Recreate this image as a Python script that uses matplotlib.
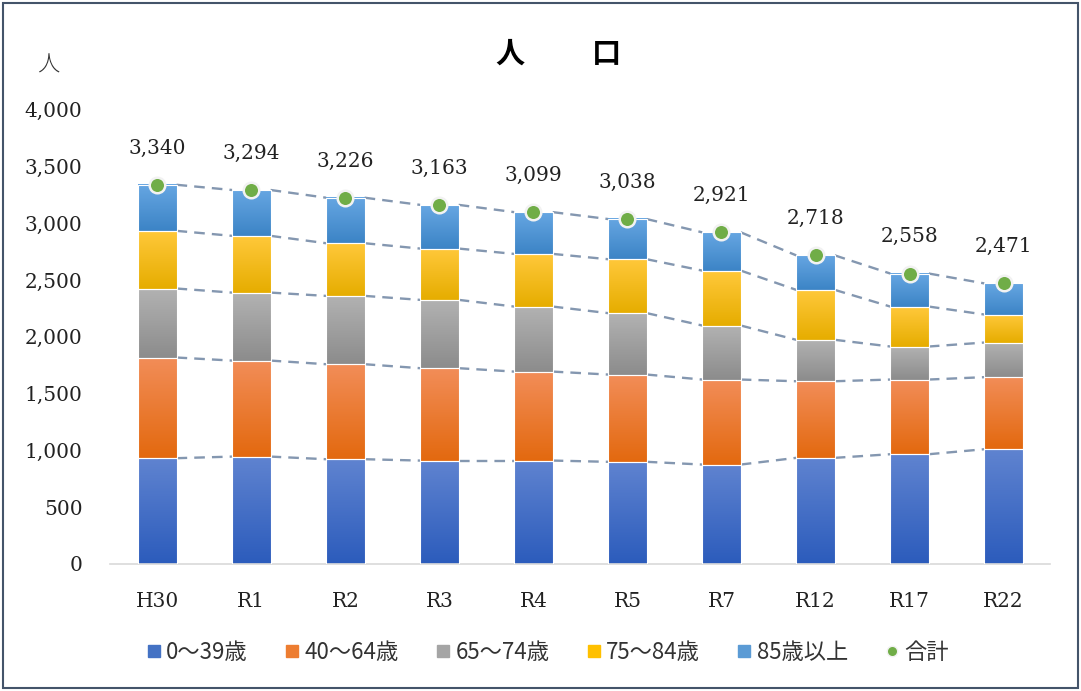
import numpy as np
import matplotlib
matplotlib.use("Agg")
from matplotlib import pyplot as plt
from matplotlib.colors import LinearSegmentedColormap
from matplotlib.patches import Rectangle
from matplotlib.lines import Line2D

years = ["H30", "R1", "R2", "R3", "R4", "R5", "R7", "R12", "R17", "R22"]
age_0_39 = [931, 945, 922, 910, 910, 899, 875, 934, 966, 1010]
age_40_64 = [887, 846, 837, 814, 784, 769, 749, 675, 658, 635]
age_65_74 = [608, 599, 602, 602, 573, 541, 476, 365, 291, 305]
age_75_84 = [508, 500, 464, 452, 464, 475, 484, 440, 352, 247]
age_85 = [406, 404, 401, 385, 368, 354, 337, 304, 291, 274]
totals = [3340, 3294, 3226, 3163, 3099, 3038, 2921, 2718, 2558, 2471]
series_names = ["0～39歳", "40～64歳", "65～74歳", "75～84歳", "85歳以上"]

series = [age_0_39, age_40_64, age_65_74, age_75_84, age_85]
# (top colour, bottom colour, legend colour)
colours = [("#5f83d0", "#2c5cbc", "#4472c4"),
           ("#f28d58", "#e3690f", "#ed7d31"),
           ("#b2b2b2", "#8c8c8c", "#a5a5a5"),
           ("#ffc83a", "#e6ad00", "#ffc000"),
           ("#66a6e2", "#3c84c6", "#5b9bd5")]

serif = ["DejaVu Serif"]
jp = ["Noto Sans CJK JP", "DejaVu Sans"]

fig = plt.figure(figsize=(10.81, 6.91), dpi=100)
ax = fig.add_axes([0.102, 0.184, 0.869, 0.657])

x = np.arange(len(years))
width = 0.41
bottom = np.zeros(len(years))
grad = np.linspace(0, 1, 64).reshape(-1, 1)
for vals, (ctop, cbot, _) in zip(series, colours):
    vals = np.array(vals, dtype=float)
    bars = ax.bar(x, vals, width, bottom=bottom, facecolor="none",
                  edgecolor="white", linewidth=0.8, zorder=3)
    cmap = LinearSegmentedColormap.from_list("g", [cbot, ctop])
    for r in bars:
        ax.imshow(grad, extent=[r.get_x(), r.get_x() + r.get_width(),
                                r.get_y(), r.get_y() + r.get_height()],
                  origin="lower", aspect="auto", cmap=cmap, zorder=2)
    bottom = bottom + vals
    # dashed series lines between bars
    for i in range(len(years) - 1):
        ax.plot([x[i] + width / 2, x[i + 1] - width / 2],
                [bottom[i], bottom[i + 1]], color="#8497b0",
                lw=1.7, ls=(0, (4.5, 3)), zorder=1)

ax.scatter(x, totals, s=125, color="#70ad47", edgecolor="#f2f2f2",
           linewidth=1.8, zorder=5)
for xi, t in zip(x, totals):
    ax.text(xi, t + 240, f"{t:,}", ha="center", va="bottom",
            fontsize=14.5, family=serif, color="#222222")

ax.set_xlim(-0.5, 9.49)
ax.set_ylim(0, 4000)
ax.set_xticks(x)
ax.set_xticklabels(years, family=serif, fontsize=14.5)
ax.set_yticks(np.arange(0, 4001, 500))
ax.set_yticklabels([f"{v:,}" for v in range(0, 4001, 500)],
                   family=serif, fontsize=14.5)
ax.tick_params(axis="both", length=0, colors="#222222")
ax.tick_params(axis="y", pad=20)
ax.tick_params(axis="x", pad=20)
for s in ["top", "right", "left"]:
    ax.spines[s].set_visible(False)
ax.spines["bottom"].set_color("#d9d9d9")
ax.spines["bottom"].set_linewidth(1.2)

fig.text(510 / 1081, 1 - 54 / 691, "人", ha="center", va="center",
         fontsize=21, fontweight="bold", family=jp)
fig.text(606 / 1081, 1 - 54 / 691, "口", ha="center", va="center",
         fontsize=21, fontweight="bold", family=jp)
fig.text(0.045, 0.905, "人", ha="center", va="center",
         fontsize=16, family=jp, fontweight="light", color="#333333")

handles = [Line2D([], [], marker="s", ls="none", markersize=8.5,
                  markerfacecolor=c[2], markeredgecolor=c[2]) for c in colours]
handles.append(Line2D([], [], marker="o", ls="none", markersize=7.5,
                      markerfacecolor="#70ad47", markeredgecolor="#f2f2f2"))
leg = fig.legend(handles, series_names + ["合計"], loc="center",
                 bbox_to_anchor=(0.505, 0.056), ncol=6, frameon=False,
                 prop={"family": jp, "size": 16}, handletextpad=0.05,
                 columnspacing=1.5, handlelength=1.0)
for t in leg.get_texts():
    t.set_color("#333333")

fig.patches.append(Rectangle((0.003, 0.004), 0.994, 0.992,
                             transform=fig.transFigure, fill=False,
                             edgecolor="#44546a", linewidth=1.5))

fig.savefig("out.png", dpi=100)
